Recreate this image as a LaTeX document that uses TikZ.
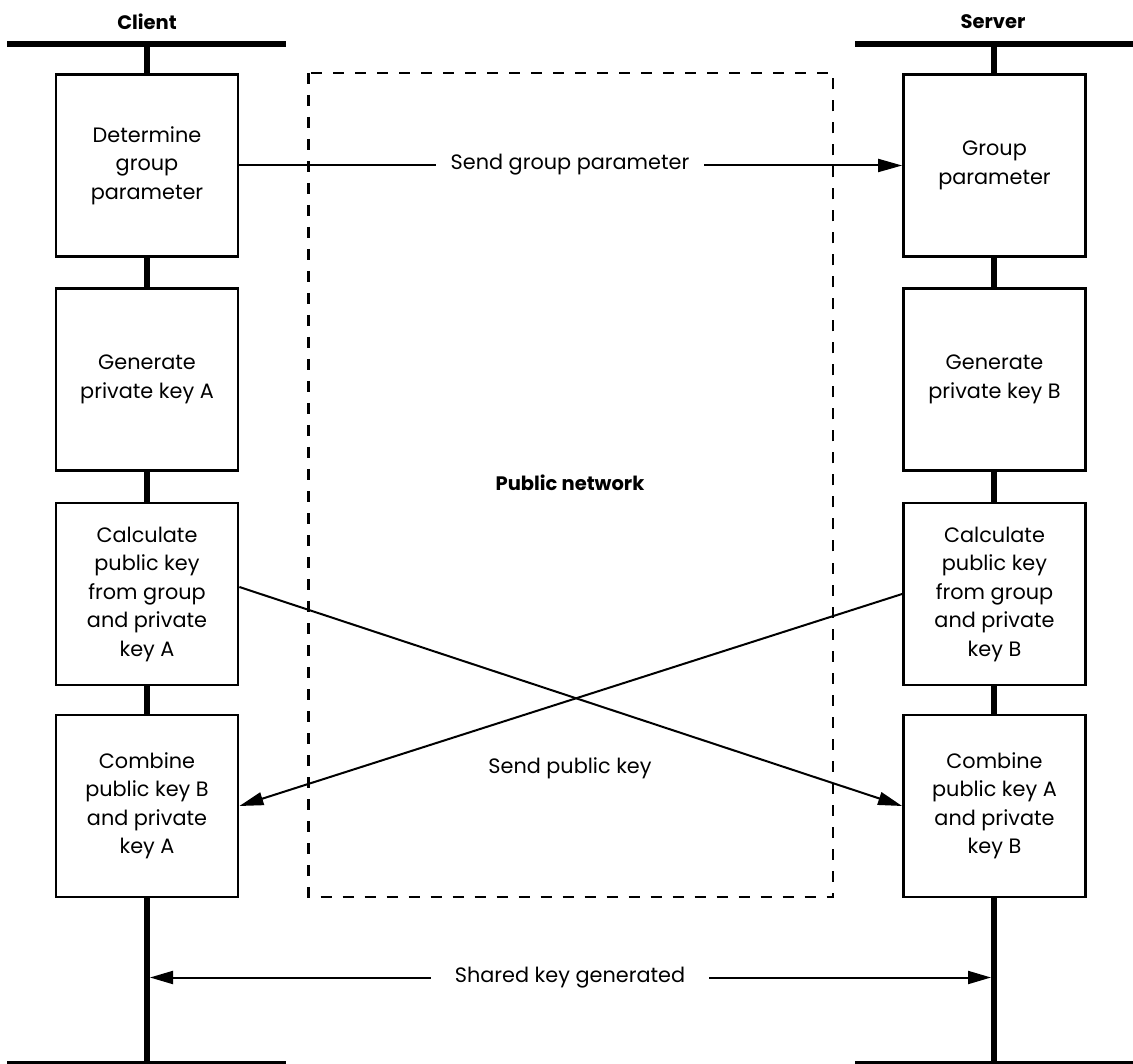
\documentclass[tikz,border=0pt]{standalone}
\usepackage{fontspec}
\setmainfont{Poppins}
\usetikzlibrary{arrows.meta}
\begin{document}
\begin{tikzpicture}[x=1pt,y=-1pt,
  box/.style={draw,line width=2.8pt,fill=white,minimum width=182pt,minimum height=182pt,align=center,inner sep=0pt,font=\fontsize{20.8}{28.5}\selectfont},
  bar/.style={line width=6.5pt},
  life/.style={line width=5.5pt},
  msg/.style={line width=2pt,-{Triangle[length=24pt,width=13pt]}},
  lbl/.style={font=\fontsize{20.8}{24}\selectfont,fill=white,inner ysep=2pt},
  head/.style={font=\bfseries\fontsize{19.5}{24}\selectfont},
  net/.style={line width=2.5pt,dash pattern=on 11pt off 11pt}]
\useasboundingbox (0,0) rectangle (1133,1064);
% bars
\coordinate (ctl) at (7,44);   \coordinate (ctr) at (286,44);
\coordinate (cbl) at (7,1064); \coordinate (cbr) at (286,1064);
\coordinate (stl) at (855,44); \coordinate (str) at (1140,44);
\coordinate (sbl) at (855,1064); \coordinate (sbr) at (1140,1064);
\draw[bar] (ctl) -- (ctr);
\draw[bar] (cbl) -- (cbr);
\draw[bar] (stl) -- (str);
\draw[bar] (sbl) -- (sbr);
% lifelines
\coordinate (ct) at (147,44);  \coordinate (cb) at (147,1064);
\coordinate (st) at (994,44);  \coordinate (sb) at (994,1064);
\draw[life] (ct) -- (cb);
\draw[life] (st) -- (sb);
% headers
\node[head] (client) at (147,22) {Client};
\node[head] (server) at (993,22) {Server};
% public network
\draw[net] (308.5,73) rectangle (833,897);
\node[head] (pn) at (570,483) {Public network};
% client boxes
\node[box] (c1) at (147,165.5) {Determine\\group\\parameter};
\node[box] (c2) at (147,379.5) {Generate\\private key A};
\node[box] (c3) at (147,594) {Calculate\\public key\\from group\\and private\\key A};
\node[box] (c4) at (147,806) {Combine\\public key B\\and private\\key A};
% server boxes
\node[box] (s1) at (994.5,165.5) {Group\\parameter};
\node[box] (s2) at (994.5,379.5) {Generate\\private key B};
\node[box] (s3) at (994.5,594) {Calculate\\public key\\from group\\and private\\key B};
\node[box] (s4) at (994.5,806) {Combine\\public key A\\and private\\key B};
% messages
\draw[msg] (c1.east) -- (s1.west);
\node[lbl,inner xsep=15pt] (sgp) at (570,165) {Send group parameter};
\draw[msg] ([yshift=7pt]c3.east) -- (s4.west);
\draw[msg] (s3.west) -- (c4.east);
\node[font=\fontsize{20.8}{24}\selectfont] (spk) at (570,768) {Send public key};
\coordinate (kl) at (150,977.5);
\coordinate (kr) at (991,977.5);
\draw[line width=2pt,{Triangle[length=23pt,width=13pt]}-{Triangle[length=23pt,width=13pt]}] (kl) -- (kr);
\node[lbl,inner xsep=24pt] (skg) at (570,977.5) {Shared key generated};
\end{tikzpicture}
\end{document}
